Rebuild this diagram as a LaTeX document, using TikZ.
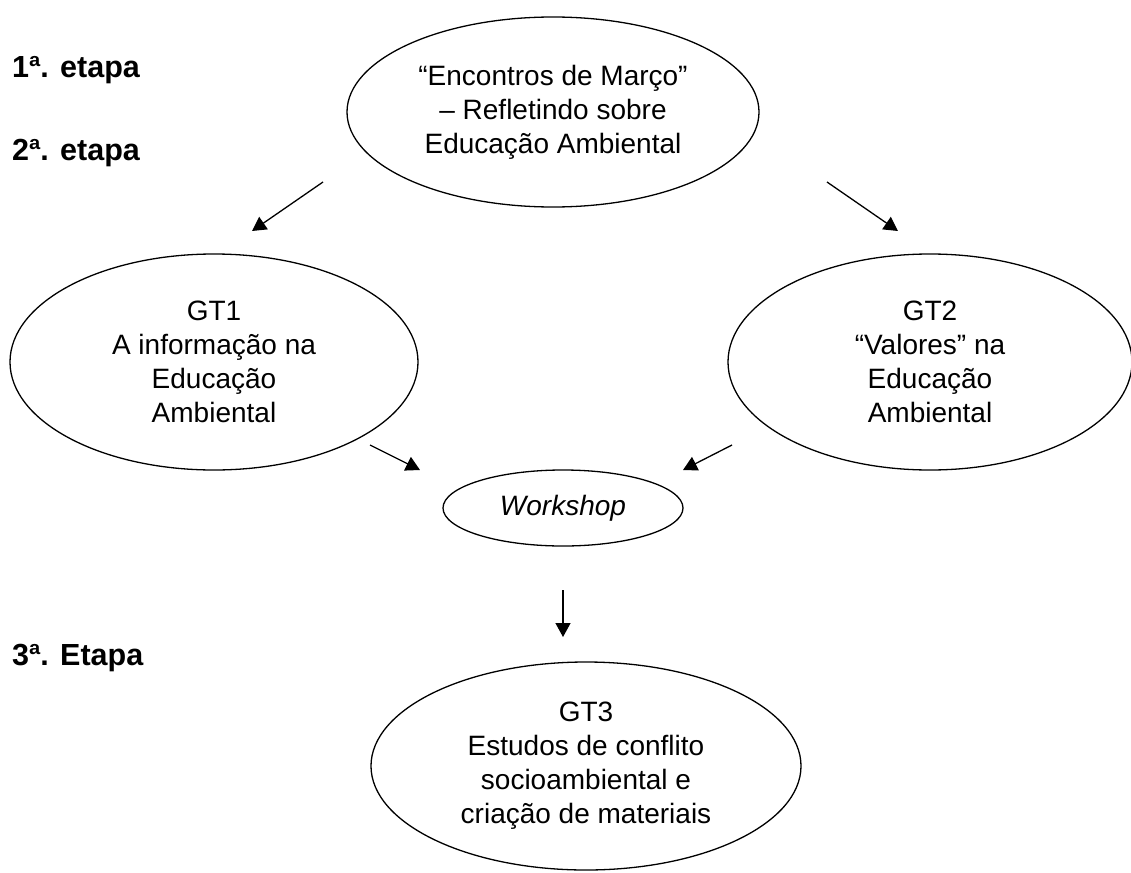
\documentclass[tikz,border=0pt]{standalone}
\usepackage{fontspec}
\setmainfont{Liberation Sans}
\usetikzlibrary{shapes.geometric,arrows.meta}
\begin{document}
\begin{tikzpicture}[x=1pt,y=-1pt,
  bubble/.style={draw,line width=1.3pt,ellipse,inner sep=0pt,align=center,
    font=\fontsize{28}{34}\selectfont},
  stage/.style={anchor=base west,inner sep=0pt,font=\fontsize{30.5}{34}\selectfont\bfseries},
  arr/.style={line width=1.3pt,-{Triangle[length=14pt,width=15pt]}}]
\useasboundingbox (0,0) rectangle (1131,872);

% stage labels
\node[stage] (s1) at (12,78) {1ª. etapa};
\node[stage] (s2) at (12,160) {2ª. etapa};
\node[stage] (s3) at (12,665) {3ª. Etapa};

% bubbles
\node[bubble,minimum width=412pt,minimum height=190pt] (enc) at (553,112)
  {“Encontros de Março”\\– Refletindo sobre\\Educação Ambiental};
\node[bubble,minimum width=408pt,minimum height=216pt] (gt1) at (214,362)
  {GT1\\A informação na\\Educação\\Ambiental};
\node[bubble,minimum width=404pt,minimum height=216pt] (gt2) at (930,362)
  {GT2\\“Valores” na\\Educação\\Ambiental};
\node[bubble,minimum width=240pt,minimum height=76pt] (ws) at (563,508)
  {\itshape Workshop};
\node[bubble,minimum width=430pt,minimum height=208pt] (gt3) at (586,766)
  {GT3\\Estudos de conflito\\socioambiental e\\criação de materiais};

% free-standing arrows between the bubbles
\coordinate (a1s) at (323,182); \coordinate (a1e) at (252,231);
\coordinate (a2s) at (827,182); \coordinate (a2e) at (898,231);
\coordinate (a3s) at (370,445); \coordinate (a3e) at (420,470);
\coordinate (a4s) at (732,445); \coordinate (a4e) at (683,470);
\coordinate (a5s) at (563,590); \coordinate (a5e) at (563,637);
\draw[arr] (a1s) -- (a1e);
\draw[arr] (a2s) -- (a2e);
\draw[arr] (a3s) -- (a3e);
\draw[arr] (a4s) -- (a4e);
\draw[arr] (a5s) -- (a5e);
\end{tikzpicture}
\end{document}
